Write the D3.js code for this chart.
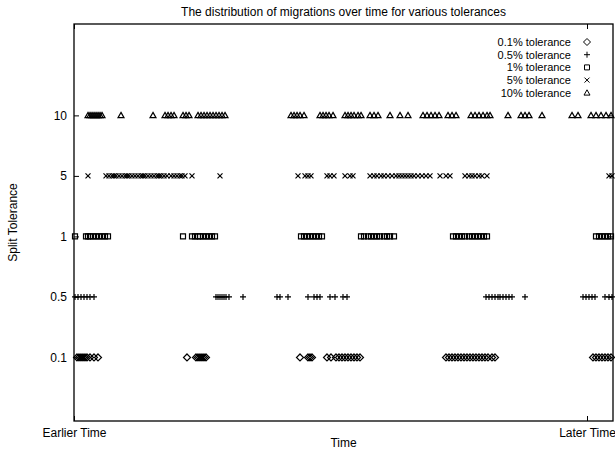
<!DOCTYPE html>
<html>
<head>
<meta charset="utf-8">
<script src="https://cdn.jsdelivr.net/npm/d3@7"></script>
<style>
  html, body { margin: 0; padding: 0; background: #fff; }
  svg { display: block; }
  text { font-family: "Liberation Sans", Arial, sans-serif; font-size: 12px; fill: #000; }
</style>
</head>
<body>
<svg id="chart" width="615" height="451"></svg>
<script>
// ---- data (time offsets; 0 = Earlier Time, 513 = Later Time) ----
const categories = ["0.1", "0.5", "1", "5", "10"];
const seriesNames = ["0.1% tolerance", "0.5% tolerance", "1% tolerance", "5% tolerance", "10% tolerance"];
const xTickLabels = ["Earlier Time", "Later Time"];
const xTickValues = [0, 513];

const t01 = [3, 5, 7, 9, 11, 13, 16, 20, 24, 113, 122, 124, 126, 128, 130, 132, 226, 234, 236, 238, 253, 257, 262, 265, 268, 271, 274, 277, 280, 283, 286, 372, 375, 378, 381, 384, 387, 390, 393, 396, 399, 402, 405, 408, 411, 414, 418, 421, 519, 522, 525, 528, 531, 534, 537];
const t05 = [1, 4, 7, 10, 13, 16, 20, 142, 144, 146, 148, 150, 152, 155, 169, 203, 206, 214, 234, 240, 243, 246, 256, 261, 269, 273, 412, 415, 418, 421, 424, 426, 429, 432, 435, 438, 451, 509, 512, 515, 518, 521, 531, 535, 538];
const t1 = [1, 12, 14, 16, 19, 22, 25, 28, 31, 34, 109, 118, 121, 124, 126, 129, 132, 135, 138, 141, 227, 230, 233, 236, 239, 242, 245, 248, 287, 290, 294, 297, 300, 303, 306, 310, 313, 316, 320, 379, 382, 385, 388, 391, 395, 398, 401, 404, 407, 410, 413, 522, 525, 528, 531, 534, 537];
const t5 = [14, 32, 35, 38, 40, 42, 45, 48, 51, 53, 55, 58, 61, 64, 67, 69, 71, 74, 77, 80, 83, 85, 87, 90, 93, 97, 100, 103, 106, 108, 111, 118, 146, 224, 231, 234, 237, 253, 256, 260, 271, 276, 279, 296, 300, 303, 307, 310, 314, 318, 322, 325, 328, 331, 334, 337, 340, 344, 348, 352, 356, 366, 372, 376, 391, 395, 398, 401, 405, 408, 413, 535, 538];
const t10 = [14, 16, 18, 20, 22, 24, 26, 28, 47, 79, 91, 94, 97, 100, 109, 112, 115, 124, 127, 130, 133, 136, 139, 142, 145, 148, 151, 217, 220, 223, 226, 230, 246, 249, 252, 255, 259, 271, 274, 277, 280, 284, 287, 296, 300, 304, 316, 326, 334, 349, 353, 357, 361, 365, 374, 378, 382, 397, 401, 405, 409, 413, 416, 434, 447, 451, 455, 468, 498, 504, 517, 522, 527, 532, 537];

const seriesTimes = [t01, t05, t1, t5, t10];

// ---- layout ----
const W = 615, H = 451;
const mLeft = 74, mRight = 613, mTop = 24, mBottom = 421;

const svg = d3.select("#chart");
svg.append("rect").attr("width", W).attr("height", H).attr("fill", "#fff");

const x = d3.scaleLinear().domain([0, 539]).range([mLeft, mRight]);
const y = d3.scaleLinear().domain([-1.05, 5.51]).range([mBottom, mTop]);

// marker shapes (gnuplot-like outline point types)
const shapes = [
  "M0,-3.5L3.5,0L0,3.5L-3.5,0Z",          // diamond
  "M-3,0H3M0,-3V3",                        // plus
  "M-2.5,-2.5H2.5V2.5H-2.5Z",              // square
  "M-2.5,-2.5L2.5,2.5M-2.5,2.5L2.5,-2.5",  // cross
  "M0,-3L3,2.3H-3Z"                        // triangle
];

// axes frame
const yAxisL = d3.axisLeft(y).tickValues(d3.range(categories.length)).tickFormat(i => categories[i]).tickSizeInner(-5).tickSizeOuter(0).tickPadding(7);
const yAxisR = d3.axisRight(y).tickValues(d3.range(categories.length)).tickFormat("").tickSizeInner(-5).tickSizeOuter(0);
const xAxisB = d3.axisBottom(x).tickValues(xTickValues).tickFormat((d, i) => xTickLabels[i]).tickSizeInner(-5).tickSizeOuter(0).tickPadding(7);
const xAxisT = d3.axisTop(x).tickValues(xTickValues).tickFormat("").tickSizeInner(-5).tickSizeOuter(0);

function styleAxis(g) {
  g.select(".domain").remove();
  g.selectAll(".tick line").attr("stroke", "#000").attr("stroke-width", 1);
  g.selectAll(".tick text").attr("font-family", "Liberation Sans, Arial, sans-serif").attr("font-size", 12).attr("fill", "#000");
}

svg.append("g").attr("transform", `translate(${mLeft},0)`).call(yAxisL).call(styleAxis);
svg.append("g").attr("transform", `translate(${mRight},0)`).call(yAxisR).call(styleAxis);
svg.append("g").attr("transform", `translate(0,${mBottom})`).call(xAxisB).call(styleAxis);
svg.append("g").attr("transform", `translate(0,${mTop})`).call(xAxisT).call(styleAxis);

// points
seriesTimes.forEach((times, si) => {
  svg.append("g")
    .selectAll("path")
    .data(times)
    .join("path")
    .attr("d", shapes[si])
    .attr("transform", d => `translate(${x(d)},${y(si)})`)
    .attr("fill", "none")
    .attr("stroke", "#000")
    .attr("stroke-width", 1.2);
});

// border
svg.append("rect")
  .attr("x", mLeft).attr("y", mTop)
  .attr("width", mRight - mLeft).attr("height", mBottom - mTop)
  .attr("fill", "none").attr("stroke", "#000").attr("stroke-width", 1.3);

// title and axis labels
svg.append("text").attr("x", (mLeft + mRight) / 2).attr("y", 16)
  .attr("text-anchor", "middle")
  .text("The distribution of migrations over time for various tolerances");

svg.append("text").attr("x", (mLeft + mRight) / 2).attr("y", 447)
  .attr("text-anchor", "middle").text("Time");

svg.append("text")
  .attr("transform", `translate(17,${(mTop + mBottom) / 2}) rotate(-90)`)
  .attr("text-anchor", "middle").text("Split Tolerance");

// legend
const legend = svg.append("g");
seriesNames.forEach((name, i) => {
  const ly = 42 + i * 12.7;
  legend.append("text").attr("x", 571).attr("y", ly).attr("dy", "0.35em")
    .attr("text-anchor", "end").style("font-size", "11px").text(name);
  legend.append("path").attr("d", shapes[i])
    .attr("transform", `translate(587,${ly})`)
    .attr("fill", "none").attr("stroke", "#000").attr("stroke-width", 1);
});
</script>
</body>
</html>
